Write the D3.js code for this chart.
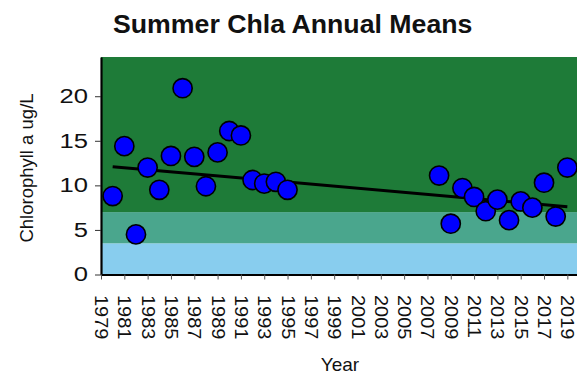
<!DOCTYPE html>
<html>
<head>
<meta charset="utf-8">
<script src="https://cdn.jsdelivr.net/npm/d3@7"></script>
<style>
  html, body { margin: 0; padding: 0; background: #fff; }
  svg { display: block; font-family: "Liberation Sans", Arial, sans-serif; }
</style>
</head>
<body>
<svg id="chart" width="577" height="374"></svg>
<script>
// Summer chlorophyll-a annual means (ug/L)
const years = [1980, 1981, 1982, 1983, 1984, 1985, 1986, 1987, 1988, 1989, 1990, 1991,
               1992, 1993, 1994, 1995,
               2008, 2009, 2010, 2011, 2012, 2013, 2014, 2015, 2016, 2017, 2018, 2019];
const chla = [8.8, 14.4, 4.5, 12.0, 9.5, 13.3, 20.9, 13.2, 9.9, 13.7, 16.1, 15.6,
              10.6, 10.2, 10.4, 9.5,
              11.1, 5.7, 9.7, 8.7, 7.1, 8.4, 6.1, 8.2, 7.5, 10.3, 6.5, 12.0];

// Linear trend endpoints
const trendYears = [1980, 2019];
const trendValues = [12.1, 7.6];

// Trophic bands (lower, upper)
const bandLower = [0, 3.5, 7];
const bandUpper = [3.5, 7, 24.4];
const bandColors = ["#88cdee", "#4aa68d", "#1e7b38"];

const yTicks = [0, 5, 10, 15, 20];
const xTicks = d3.range(1979, 2020, 2);

const svg = d3.select("#chart");
const plotLeft = 101, plotRight = 579, plotTop = 57, plotBottom = 274.5;

const x = d3.scaleLinear().domain([1979, 2020]).range([plotLeft, plotRight]);
const y = d3.scaleLinear().domain([0, 24.4]).range([plotBottom, plotTop]);

// Background bands
svg.append("g").selectAll("rect")
  .data(bandLower.map((lo, i) => ({lo, hi: bandUpper[i], c: bandColors[i]})))
  .join("rect")
  .attr("x", plotLeft)
  .attr("width", plotRight - plotLeft)
  .attr("y", d => y(d.hi))
  .attr("height", d => y(d.lo) - y(d.hi))
  .attr("fill", d => d.c);

// Title
svg.append("text")
  .attr("x", 113).attr("y", 33)
  .attr("font-size", 26.7).attr("font-weight", "bold")
  .attr("fill", "#111")
  .text("Summer Chla Annual Means");

// Trend line
svg.append("line")
  .attr("x1", x(trendYears[0])).attr("y1", y(trendValues[0]))
  .attr("x2", x(trendYears[1])).attr("y2", y(trendValues[1]))
  .attr("stroke", "#000").attr("stroke-width", 3);

// Points
svg.append("g").selectAll("circle")
  .data(years.map((yr, i) => [yr, chla[i]]))
  .join("circle")
  .attr("cx", d => x(d[0]))
  .attr("cy", d => y(d[1]))
  .attr("r", 9.6)
  .attr("fill", "#0000ff")
  .attr("stroke", "#000")
  .attr("stroke-width", 1.6);

// Y axis
const yAxis = svg.append("g")
  .attr("transform", `translate(${plotLeft},0)`)
  .call(d3.axisLeft(y).tickValues(yTicks).tickSize(6).tickSizeOuter(0));
yAxis.select(".domain").attr("stroke", "#000").attr("stroke-width", 2.2);
yAxis.selectAll(".tick line").attr("stroke", "#333").attr("stroke-width", 1);
// digits drawn slightly wide, right-aligned just left of the ticks
yAxis.selectAll(".tick text")
  .attr("font-size", 20)
  .attr("fill", "#111")
  .attr("font-family", "Liberation Sans, Arial, sans-serif")
  .attr("x", -10.2)
  .attr("transform", "scale(1.28,1)");

// X axis
const xAxis = svg.append("g")
  .attr("transform", `translate(0,${plotBottom})`)
  .call(d3.axisBottom(x).tickValues(xTicks).tickSize(5).tickSizeOuter(0).tickFormat(d3.format("d")));
xAxis.select(".domain").attr("stroke", "#000").attr("stroke-width", 2.2)
  .attr("d", `M${plotLeft},0.5H577`);
xAxis.selectAll(".tick line").attr("stroke", "#555").attr("stroke-width", 1);
xAxis.selectAll(".tick text")
  .attr("font-size", 18.5)
  .attr("fill", "#111")
  .attr("font-family", "Liberation Sans, Arial, sans-serif")
  .attr("text-anchor", "start")
  .attr("transform", "rotate(90) scale(1.08,1)")
  .attr("x", 19)
  .attr("y", 0)
  .attr("dy", "0.35em");

// Axis titles
svg.append("text")
  .attr("transform", "translate(33,168) rotate(-90)")
  .attr("text-anchor", "middle")
  .attr("font-size", 18.5)
  .attr("fill", "#111")
  .text("Chlorophyll a ug/L");

svg.append("text")
  .attr("x", 340).attr("y", 371)
  .attr("text-anchor", "middle")
  .attr("font-size", 19)
  .attr("fill", "#111")
  .text("Year");
</script>
</body>
</html>
